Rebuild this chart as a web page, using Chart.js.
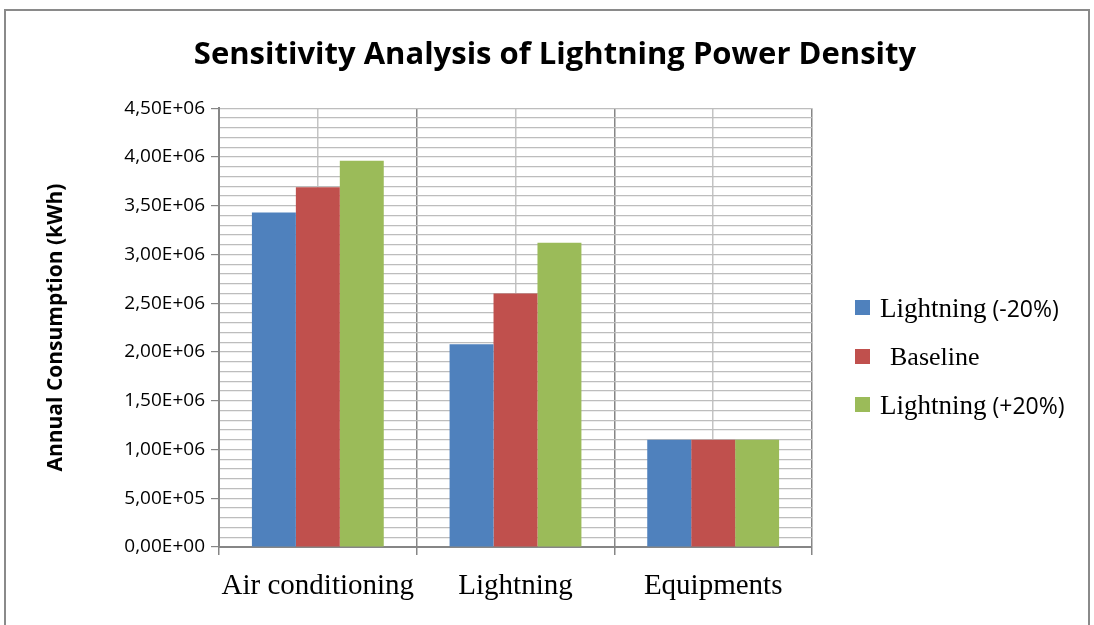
<!DOCTYPE html>
<html>
<head>
<meta charset="utf-8">
<script src="https://cdn.jsdelivr.net/npm/chart.js@4.4.0/dist/chart.umd.min.js"></script>
<style>
  html, body { margin: 0; padding: 0; background: #fff; }
  #wrap { position: relative; width: 1094px; height: 625px; overflow: hidden; }
  #frame { position: absolute; left: 4px; top: 9px; width: 1086px; height: 700px; border: 2px solid #8a8a8a; box-sizing: border-box; pointer-events: none; }
  canvas { position: absolute; left: 0; top: 0; }
  .lg { position: absolute; left: 855px; height: 30px; white-space: nowrap; }
  .sw { position: absolute; left: 0; width: 15px; height: 15px; }
  .tx { position: absolute; left: 25px; line-height: 30px; top: -7px; color: #000; }
  .serif { font-family: "Liberation Serif", "DejaVu Serif", serif; font-size: 27px; }
  .sans { font-family: "Open Sans", sans-serif; font-size: 23px; }
</style>
</head>
<body>
<div id="wrap">
  <canvas id="c" width="1094" height="625"></canvas>
  <div id="frame"></div>
  <div id="legend"></div>
</div>
<script>
const categories = ['Air conditioning', 'Lightning', 'Equipments'];
const seriesNames = ['Lightning (-20%)', 'Baseline', 'Lightning (+20%)'];
const seriesColors = ['#4f81bd', '#c0504d', '#9bbb59'];
const lightningMinus20 = [3430000, 2080000, 1100000];
const baselineValues = [3690000, 2600000, 1100000];
const lightningPlus20 = [3960000, 3120000, 1100000];
const yMin = 0, yMax = 4500000, yStep = 100000, yLabelEvery = 500000;

function fmtSci(v) {
  if (v === 0) return '0,00E+00';
  const exp = Math.floor(Math.log10(Math.abs(v)) + 1e-9);
  const mant = v / Math.pow(10, exp);
  const e = (exp < 0 ? '-' : '+') + String(Math.abs(exp)).padStart(2, '0');
  return mant.toFixed(2).replace('.', ',') + 'E' + e;
}
function isMajor(v) { return Math.abs(Math.round(v / yStep) % Math.round(yLabelEvery / yStep)) === 0; }

const allSeries = [lightningMinus20, baselineValues, lightningPlus20];
const datasets = allSeries.map((d, i) => ({
  label: seriesNames[i],
  data: d,
  backgroundColor: seriesColors[i],
  borderWidth: 0,
  categoryPercentage: 0.667,
  barPercentage: 1.0
}));

new Chart(document.getElementById('c'), {
  type: 'bar',
  data: { labels: categories, datasets },
  options: {
    responsive: false,
    animation: false,
    devicePixelRatio: 1,
    layout: { padding: { left: 16, right: 0, top: 0, bottom: 0 } },
    plugins: {
      legend: { display: false },
      tooltip: { enabled: false },
      title: {
        display: true,
        text: 'Sensitivity Analysis of Lightning Power Density',
        color: '#000',
        font: { family: 'Open Sans', weight: 'bold', size: 31 },
        padding: { top: 37, bottom: 34 }
      }
    },
    scales: {
      x: {
        position: 'bottom',
        offset: true,
        grid: { display: true, offset: true, color: '#868686', lineWidth: 1.5, tickLength: 8, tickColor: '#868686', drawOnChartArea: true },
        border: { display: true, color: '#868686', width: 2 },
        ticks: { color: '#000', font: { family: 'Liberation Serif', size: 29 }, padding: 14, maxRotation: 0 },
        afterFit: s => { s.height = 78; }
      },
      x2: {
        type: 'category',
        position: 'bottom',
        offset: true,
        grid: { display: true, offset: false, color: '#c4c4c4', lineWidth: 1.5, drawTicks: false },
        border: { display: false },
        ticks: { display: false },
        afterFit: s => { s.height = 0; }
      },
      y: {
        position: 'left',
        min: yMin, max: yMax,
        grid: {
          color: '#bdbdbd', lineWidth: 1.2, tickLength: 8,
          tickColor: ctx => (ctx.tick && isMajor(ctx.tick.value)) ? '#868686' : 'rgba(0,0,0,0)'
        },
        border: { display: true, color: '#868686', width: 2 },
        ticks: {
          stepSize: yStep, autoSkip: false, color: '#000', padding: 6,
          font: { family: 'Open Sans', size: 19 },
          callback: v => isMajor(v) ? fmtSci(v) : ''
        },
        title: {
          display: true, text: 'Annual Consumption (kWh)', color: '#000',
          font: { family: 'Open Sans', weight: 'bold', size: 21 }, padding: { top: 27, bottom: 0 }
        },
        afterFit: s => { s.width = 203; }
      },
      yR: {
        position: 'right',
        display: true,
        grid: { display: false },
        border: { display: false },
        ticks: { display: false },
        afterFit: s => { s.width = 282; }
      }
    }
  }
});

// Legend (HTML text, mixed fonts like the reference)
const legendTops = [300, 349, 397];
const lg = document.getElementById('legend');
seriesNames.forEach((name, i) => {
  const item = document.createElement('div');
  item.className = 'lg';
  item.style.top = legendTops[i] + 'px';
  const sw = document.createElement('div');
  sw.className = 'sw';
  sw.style.background = seriesColors[i];
  item.appendChild(sw);
  const tx = document.createElement('div');
  tx.className = 'tx';
  const idx = name.indexOf(' (');
  if (idx >= 0) {
    const a = document.createElement('span'); a.className = 'serif'; a.textContent = name.slice(0, idx);
    const b = document.createElement('span'); b.className = 'sans'; b.textContent = ' ' + name.slice(idx + 1);
    tx.appendChild(a); tx.appendChild(b);
  } else {
    tx.style.left = '35px';
    const a = document.createElement('span'); a.className = 'serif'; a.style.fontSize = '26px'; a.textContent = name;
    tx.appendChild(a);
  }
  item.appendChild(tx);
  lg.appendChild(item);
});
</script>
</body>
</html>
